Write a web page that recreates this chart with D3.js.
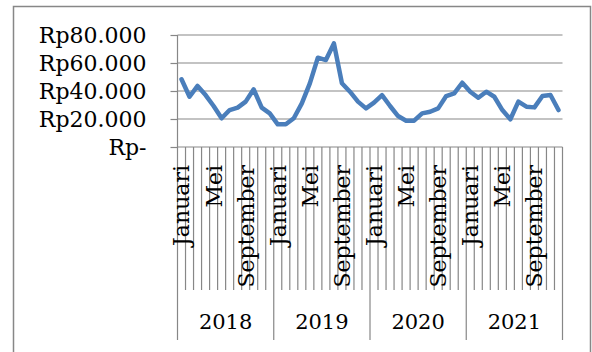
<!DOCTYPE html>
<html>
<head>
	<meta charset="utf-8">
	<title>Harga per bulan 2018-2021</title>
	<script src="https://d3js.org/d3.v7.min.js"></script>
	<style>
		body { margin: 0; background: #fff; }
	</style>
</head>
<body>
	<div class="chart"></div>

	<script type="text/javascript">

		var years = ['2018', '2019', '2020', '2021']
		var months = ['Januari', 'Februari', 'Maret', 'April', 'Mei', 'Juni', 'Juli',
			'Agustus', 'September', 'Oktober', 'November', 'Desember']
		var yTicks = [0, 20000, 40000, 60000, 80000]
		var values = [
			// 2018
			48400, 35900, 43600, 37100, 29300, 20500, 26400, 28100, 32400, 41200, 28100, 24000,
			// 2019
			16200, 16200, 20500, 31200, 45500, 63800, 62100, 74000, 45500, 39500, 32400, 27600,
			// 2020
			31700, 37000, 29300, 22100, 18800, 18800, 24000, 25200, 27600, 36400, 38300, 45900,
			// 2021
			39500, 35200, 39500, 35900, 26400, 19800, 32400, 28800, 28300, 36400, 37100, 26400
		]

		var width = 592
		var height = 352
		var plotLeft = 177.5
		var plotRight = 562.5
		var plotTop = 35
		var plotBottom = 147
		var gridColor = '#878787'
		var fontFamily = '"DejaVu Serif", serif'

		// kategori: tahun + bulan
		var keys = []
		years.forEach(function (y) {
			months.forEach(function (m) { keys.push(y + '-' + m) })
		})

		var svg = d3.select('.chart')
			.append('svg')
			.attr('width', width)
			.attr('height', height)
			.style('font-family', fontFamily)

		// bingkai luar
		svg.append('rect')
			.attr('x', 13.5)
			.attr('y', 6.5)
			.attr('width', 577)
			.attr('height', 380)
			.attr('fill', '#fff')
			.attr('stroke', gridColor)
			.attr('stroke-width', 1.5)

		var xScale = d3.scaleBand().domain(keys).range([plotLeft, plotRight])
		var yScale = d3.scaleLinear().domain([0, 80000]).range([plotBottom, plotTop])

		// garis grid
		svg.append('g')
			.selectAll('line')
			.data(yTicks)
			.enter()
			.append('line')
			.attr('x1', plotLeft)
			.attr('x2', plotRight)
			.attr('y1', function (d) { return yScale(d) })
			.attr('y2', function (d) { return yScale(d) })
			.attr('stroke', gridColor)
			.attr('stroke-width', 1.2)

		// sumbu y
		var yAxis = d3.axisLeft(yScale)
			.tickValues(yTicks)
			.tickSize(7)
			.tickPadding(24)
			.tickFormat(function (d) {
				return d === 0 ? 'Rp-' : 'Rp' + d3.format(',')(d).replace(/,/g, '.')
			})
		var yg = svg.append('g')
			.attr('transform', 'translate(' + plotLeft + ',0)')
			.call(yAxis)
		yg.select('.domain').remove()
		yg.selectAll('line').attr('stroke', gridColor).attr('stroke-width', 1.2)
		yg.selectAll('text')
			.attr('fill', '#000')
			.style('font-size', '22px')
			.style('font-family', fontFamily)
			.attr('dy', '0.36em')

		svg.append('line')
			.attr('x1', plotLeft).attr('x2', plotLeft)
			.attr('y1', plotTop).attr('y2', plotBottom)
			.attr('stroke', gridColor)
			.attr('stroke-width', 1.2)

		// sumbu x: tanda antar-kategori
		var bw = xScale.bandwidth()
		var bounds = d3.range(keys.length + 1)
		svg.append('g')
			.selectAll('line')
			.data(bounds)
			.enter()
			.append('line')
			.attr('x1', function (i) { return plotLeft + i * bw })
			.attr('x2', function (i) { return plotLeft + i * bw })
			.attr('y1', plotBottom)
			.attr('y2', function (i) { return i % 12 === 0 ? 340 : 290 })
			.attr('stroke', gridColor)
			.attr('stroke-width', 1.2)

		// label bulan (setiap 4)
		svg.append('g')
			.selectAll('text')
			.data(keys.filter(function (k, i) { return i % 4 === 0 }))
			.enter()
			.append('text')
			.attr('transform', function (k) {
				return 'translate(' + (xScale(k) + bw / 2) + ',165) rotate(-90)'
			})
			.attr('text-anchor', 'end')
			.attr('dy', '0.36em')
			.style('font-size', '22px')
			.text(function (k) { return k.split('-')[1] })

		// label tahun
		svg.append('g')
			.selectAll('text')
			.data(years)
			.enter()
			.append('text')
			.attr('x', function (y) {
				return xScale(y + '-' + months[0]) + bw * 6
			})
			.attr('y', 329)
			.attr('text-anchor', 'middle')
			.style('font-size', '21px')
			.text(function (y) { return y })

		// garis data
		var line = d3.line()
			.x(function (d, i) { return xScale(keys[i]) + bw / 2 })
			.y(function (d) { return yScale(d) })

		svg.append('path')
			.datum(values)
			.attr('d', line)
			.attr('fill', 'none')
			.attr('stroke', '#4a7ebb')
			.attr('stroke-width', 4.5)
			.attr('stroke-linejoin', 'round')
			.attr('stroke-linecap', 'round')

	</script>
</body>
</html>
